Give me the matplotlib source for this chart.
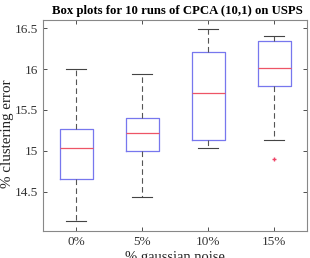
import matplotlib
matplotlib.use("Agg")
import matplotlib.pyplot as plt

labels = ["0%", "5%", "10%", "15%"]
whislo = [14.14, 14.43, 15.04, 15.13]
q1 = [14.65, 15.00, 15.13, 15.79]
med = [15.04, 15.22, 15.71, 16.01]
q3 = [15.27, 15.40, 16.21, 16.34]
whishi = [16.00, 15.94, 16.49, 16.40]
fliers = [[], [], [], [14.90]]

plt.rcParams['font.family'] = ['Liberation Serif', 'DejaVu Serif']

fig = plt.figure(figsize=(3.1, 2.58), dpi=100)
ax = fig.add_axes([43/310, 1-231/258, 264/310, 211/258])

stats = []
for i in range(4):
    stats.append(dict(label=labels[i], whislo=whislo[i], q1=q1[i], med=med[i],
                      q3=q3[i], whishi=whishi[i], fliers=fliers[i]))

ax.bxp(stats, positions=[1, 2, 3, 4], widths=0.5, capwidths=0.3,
       boxprops=dict(color='#7777ee', linewidth=0.9),
       medianprops=dict(color='#ee5566', linewidth=0.9),
       whiskerprops=dict(color='#555555', linewidth=0.8, linestyle=(0, (5, 3))),
       capprops=dict(color='#444444', linewidth=0.8),
       flierprops=dict(marker='+', markeredgecolor='#ee4466', markersize=3, linestyle='none'))

ax.set_xlim(0.5, 4.5)
ax.set_ylim(14.02, 16.6)
ax.set_yticks([14.5, 15, 15.5, 16, 16.5])
ax.set_yticklabels(['14.5', '15', '15.5', '16', '16.5'])
ax.set_xticks([1, 2, 3, 4])
ax.set_xticklabels(labels)
ax.tick_params(direction='in', length=3, labelsize=9.5, colors='#333333',
               top=True, right=True, width=0.6)
for s in ax.spines.values():
    s.set_color('#888888')
    s.set_linewidth(0.8)
ax.set_xlabel('% gaussian noise', fontsize=10.5, color='#222222', labelpad=2)
ax.set_ylabel('% clustering error', fontsize=10.8, color='#222222', labelpad=1)
ax.yaxis.set_label_coords(-0.11, 0.46)
ax.set_title('Box plots for 10 runs of CPCA (10,1) on USPS', fontsize=9.2,
             fontweight='bold', pad=4)
ax.title.set_x(0.51)

fig.savefig('out.png', dpi=100)
